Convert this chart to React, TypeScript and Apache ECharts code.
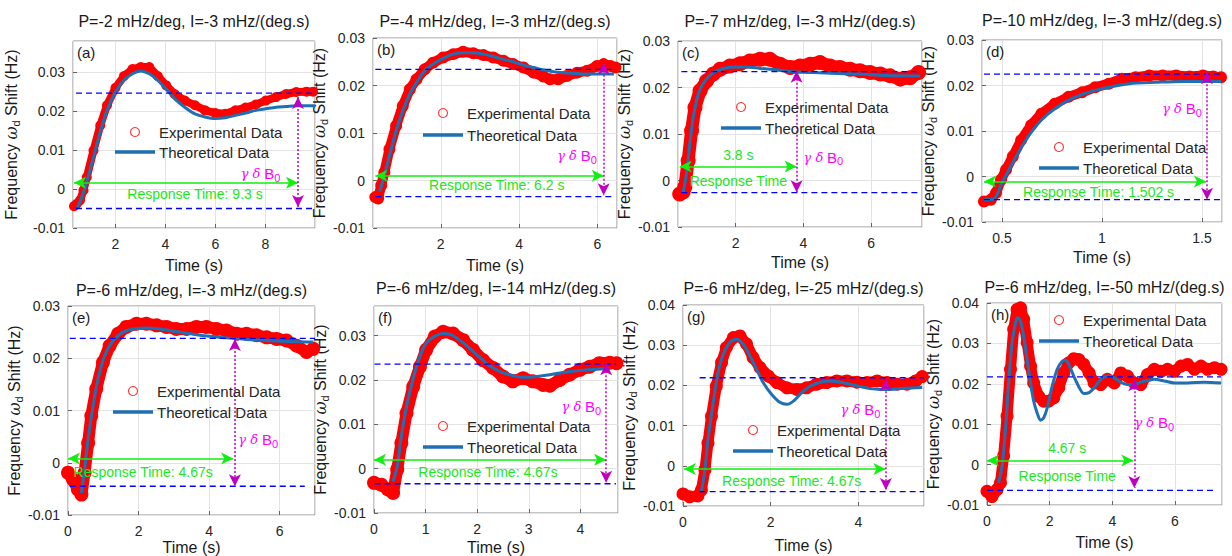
import React, { useEffect, useRef } from "react";
import * as echarts from "echarts";

type Pt = [number, number];

const FONT = "Liberation Sans, Arial, Helvetica, sans-serif";

const titles = [
  "P=-2 mHz/deg, I=-3 mHz/(deg.s)",
  "P=-4 mHz/deg, I=-3 mHz/(deg.s)",
  "P=-7 mHz/deg, I=-3 mHz/(deg.s)",
  "P=-10 mHz/deg, I=-3 mHz/(deg.s)",
  "P=-6 mHz/deg, I=-3 mHz/(deg.s)",
  "P=-6 mHz/deg, I=-14 mHz/(deg.s)",
  "P=-6 mHz/deg, I=-25 mHz/(deg.s)",
  "P=-6 mHz/deg, I=-50 mHz/(deg.s)",
];
const letters = ["(a)", "(b)", "(c)", "(d)", "(e)", "(f)", "(g)", "(h)"];

// axis ranges
const xRanges: Pt[] = [[0.3, 9.98], [0.27, 6.5], [0.3, 7.5], [0.4, 1.6], [0, 7], [0, 4.73], [0, 5.5], [0, 7.5]];
const xSteps = [2, 2, 2, 0.5, 2, 1, 2, 2];
const yRanges: Pt[] = [[-0.01, 0.038], [-0.01, 0.03], [-0.01, 0.03], [-0.01, 0.03], [-0.01, 0.03], [-0.01, 0.0367], [-0.01, 0.04], [-0.01, 0.04]];
const yStep = 0.01;

// experimental / theoretical data
const expA: Pt[] = [[0.34, -0.0044], [0.45, -0.0038], [0.58, -0.0029], [0.72, -0.0003], [0.85, 0.003], [1.12, 0.0099], [1.39, 0.0163], [1.66, 0.0215], [2.0, 0.026], [2.34, 0.029], [2.68, 0.0308], [3.01, 0.0313], [3.35, 0.0313], [3.69, 0.029], [4.03, 0.0266], [4.36, 0.0244], [4.77, 0.0227], [5.18, 0.0215], [5.58, 0.0202], [5.99, 0.0195], [6.39, 0.0193], [6.8, 0.0202], [7.2, 0.0209], [7.61, 0.0217], [8.01, 0.0227], [8.42, 0.0236], [8.82, 0.0244], [9.23, 0.0249], [9.64, 0.025], [9.9, 0.025]];
const theoA: Pt[] = [[0.47, -0.0046], [0.6, -0.003], [0.85, 0.0018], [1.12, 0.0082], [1.39, 0.0146], [1.66, 0.0202], [2.0, 0.0249], [2.34, 0.0279], [2.68, 0.0296], [3.01, 0.0303], [3.35, 0.0296], [3.69, 0.0279], [4.03, 0.0257], [4.36, 0.0232], [4.77, 0.021], [5.18, 0.0193], [5.58, 0.0185], [5.99, 0.0181], [6.39, 0.0183], [6.8, 0.0189], [7.2, 0.0195], [7.61, 0.0202], [8.01, 0.0206], [8.42, 0.021], [8.82, 0.0212], [9.23, 0.0214], [9.64, 0.0214], [9.98, 0.0214]];

const expB: Pt[] = [[0.33, -0.0035], [0.4, -0.0038], [0.48, -0.001], [0.56, 0.0017], [0.69, 0.0066], [0.86, 0.0115], [1.03, 0.0157], [1.21, 0.0192], [1.38, 0.0213], [1.59, 0.0234], [1.8, 0.0248], [2.06, 0.0259], [2.32, 0.0266], [2.57, 0.0271], [2.83, 0.0268], [3.09, 0.0264], [3.34, 0.0259], [3.6, 0.0252], [3.85, 0.0245], [4.11, 0.0238], [4.37, 0.0227], [4.62, 0.0219], [4.79, 0.0213], [5.0, 0.0213], [5.22, 0.022], [5.48, 0.0227], [5.74, 0.0231], [5.99, 0.0241], [6.16, 0.0245], [6.33, 0.0241], [6.46, 0.0238]];
const theoB: Pt[] = [[0.44, -0.0023], [0.56, 0.001], [0.69, 0.0052], [0.86, 0.0105], [1.03, 0.0147], [1.21, 0.0182], [1.38, 0.0206], [1.59, 0.0231], [1.8, 0.0245], [2.06, 0.0257], [2.32, 0.0266], [2.57, 0.0269], [2.83, 0.0269], [3.09, 0.0266], [3.34, 0.0261], [3.6, 0.0255], [3.85, 0.025], [4.11, 0.0243], [4.37, 0.0238], [4.62, 0.0233], [4.88, 0.0229], [5.14, 0.0227], [5.39, 0.0226], [5.65, 0.0224], [5.99, 0.0224], [6.42, 0.0224]];

const expC: Pt[] = [[0.35, -0.0029], [0.45, -0.0025], [0.5, -0.0014], [0.6, 0.0043], [0.7, 0.0107], [0.8, 0.0157], [0.95, 0.0193], [1.14, 0.0214], [1.34, 0.0229], [1.54, 0.0239], [1.83, 0.0246], [2.13, 0.0251], [2.42, 0.0257], [2.72, 0.0261], [3.01, 0.0261], [3.31, 0.025], [3.61, 0.0243], [3.9, 0.0246], [4.2, 0.025], [4.49, 0.0254], [4.79, 0.0246], [5.08, 0.0243], [5.38, 0.0239], [5.67, 0.0236], [5.97, 0.0232], [6.27, 0.0229], [6.56, 0.0225], [6.86, 0.0218], [7.15, 0.0221], [7.4, 0.0232]];
const theoC: Pt[] = [[0.45, -0.0027], [0.55, 0.0014], [0.65, 0.0079], [0.75, 0.0136], [0.9, 0.0186], [1.09, 0.0214], [1.34, 0.0232], [1.64, 0.0241], [1.98, 0.0244], [2.33, 0.0244], [2.72, 0.0241], [3.21, 0.0238], [3.7, 0.0234], [4.3, 0.0232], [4.99, 0.023], [5.67, 0.0229], [6.46, 0.0226], [7.45, 0.0225]];

const expD: Pt[] = [[0.41, -0.0055], [0.444, -0.0051], [0.47, -0.0036], [0.495, -0.0007], [0.52, 0.0015], [0.554, 0.0044], [0.596, 0.008], [0.646, 0.0113], [0.697, 0.0138], [0.764, 0.016], [0.832, 0.0175], [0.9, 0.0185], [0.966, 0.0196], [1.034, 0.0204], [1.1, 0.0215], [1.168, 0.0218], [1.236, 0.0222], [1.303, 0.0222], [1.37, 0.0222], [1.438, 0.022], [1.505, 0.0222], [1.556, 0.022], [1.595, 0.0218]];
const theoD: Pt[] = [[0.41, -0.0051], [0.46, -0.0049], [0.495, -0.0018], [0.53, 0.0011], [0.58, 0.0051], [0.63, 0.0087], [0.697, 0.0124], [0.764, 0.0149], [0.848, 0.0171], [0.933, 0.0185], [1.034, 0.0196], [1.135, 0.0204], [1.27, 0.0207], [1.404, 0.0209], [1.595, 0.0209]];

const expE: Pt[] = [[0.0, -0.0019], [0.14, -0.0032], [0.28, -0.0051], [0.38, -0.0061], [0.47, -0.0019], [0.57, 0.0038], [0.66, 0.009], [0.8, 0.0141], [0.99, 0.0192], [1.18, 0.0224], [1.42, 0.0247], [1.65, 0.026], [1.94, 0.0266], [2.22, 0.0266], [2.51, 0.0263], [2.79, 0.026], [3.07, 0.0256], [3.36, 0.0256], [3.64, 0.026], [3.92, 0.026], [4.21, 0.0256], [4.49, 0.0253], [4.78, 0.0247], [5.06, 0.0247], [5.34, 0.0244], [5.63, 0.024], [5.91, 0.0237], [6.19, 0.0234], [6.48, 0.0224], [6.76, 0.0212], [6.95, 0.0218]];
const theoE: Pt[] = [[0.38, -0.0058], [0.47, -0.0013], [0.57, 0.0045], [0.71, 0.0109], [0.85, 0.016], [1.04, 0.0205], [1.28, 0.0234], [1.56, 0.025], [1.84, 0.0256], [2.22, 0.0258], [2.6, 0.0256], [3.07, 0.0251], [3.55, 0.0246], [4.02, 0.0242], [4.49, 0.0239], [5.06, 0.0236], [5.63, 0.0234], [6.29, 0.0232], [6.95, 0.0231]];

const expF: Pt[] = [[0.0, -0.0032], [0.14, -0.0036], [0.27, -0.0047], [0.37, -0.0055], [0.45, -0.0002], [0.53, 0.0058], [0.63, 0.0125], [0.76, 0.0185], [0.89, 0.023], [1.01, 0.0268], [1.18, 0.0298], [1.34, 0.0309], [1.53, 0.0305], [1.73, 0.029], [1.92, 0.0268], [2.11, 0.0245], [2.31, 0.0227], [2.5, 0.0208], [2.69, 0.0197], [2.89, 0.0204], [3.08, 0.0197], [3.28, 0.0189], [3.41, 0.0187], [3.6, 0.02], [3.79, 0.0212], [3.99, 0.0223], [4.18, 0.023], [4.37, 0.0238], [4.57, 0.0239], [4.7, 0.0238]];
const theoF: Pt[] = [[0.37, -0.0029], [0.45, 0.0005], [0.53, 0.0073], [0.63, 0.014], [0.76, 0.0204], [0.89, 0.0253], [1.01, 0.0283], [1.18, 0.0299], [1.34, 0.0305], [1.5, 0.0302], [1.66, 0.029], [1.85, 0.0272], [2.05, 0.0251], [2.24, 0.0232], [2.44, 0.0219], [2.63, 0.0212], [2.89, 0.0206], [3.15, 0.0208], [3.41, 0.0212], [3.66, 0.0217], [3.92, 0.0221], [4.25, 0.0224], [4.57, 0.0226]];

const expG: Pt[] = [[0.0, -0.007], [0.15, -0.0077], [0.34, -0.0075], [0.42, -0.006], [0.5, -0.001], [0.57, 0.0057], [0.65, 0.0123], [0.76, 0.0198], [0.88, 0.0257], [0.99, 0.0294], [1.15, 0.0319], [1.3, 0.0323], [1.45, 0.0303], [1.6, 0.0269], [1.76, 0.0244], [1.95, 0.0223], [2.14, 0.0207], [2.37, 0.0194], [2.6, 0.019], [2.82, 0.0194], [3.05, 0.0203], [3.28, 0.0207], [3.51, 0.0211], [3.74, 0.0211], [3.97, 0.0208], [4.2, 0.0207], [4.43, 0.0211], [4.66, 0.0207], [4.89, 0.0203], [5.11, 0.0203], [5.31, 0.0211], [5.46, 0.0222]];
const theoG: Pt[] = [[0.42, -0.0064], [0.5, -0.001], [0.57, 0.0065], [0.69, 0.0157], [0.8, 0.0232], [0.92, 0.0278], [1.07, 0.0307], [1.22, 0.0315], [1.37, 0.0303], [1.53, 0.0273], [1.68, 0.024], [1.83, 0.0207], [2.02, 0.0178], [2.21, 0.0158], [2.37, 0.0153], [2.52, 0.0161], [2.71, 0.0182], [2.9, 0.0198], [3.13, 0.0208], [3.36, 0.0211], [3.59, 0.0208], [3.82, 0.0203], [4.05, 0.0197], [4.27, 0.0192], [4.5, 0.019], [4.73, 0.019], [5.04, 0.0193], [5.46, 0.0195]];

const expH: Pt[] = [[0.0, -0.0066], [0.16, -0.0079], [0.32, -0.0062], [0.43, -0.0045], [0.53, 0.0021], [0.64, 0.012], [0.75, 0.0236], [0.85, 0.0335], [0.96, 0.0384], [1.07, 0.0388], [1.17, 0.036], [1.28, 0.0302], [1.39, 0.0244], [1.49, 0.0202], [1.65, 0.0169], [1.81, 0.0157], [1.97, 0.0157], [2.13, 0.0165], [2.29, 0.019], [2.45, 0.0227], [2.61, 0.0252], [2.77, 0.0262], [2.93, 0.026], [3.09, 0.0248], [3.26, 0.0227], [3.42, 0.0202], [3.63, 0.0198], [3.84, 0.0211], [4.06, 0.0202], [4.27, 0.0227], [4.48, 0.0219], [4.7, 0.0202], [4.91, 0.0198], [5.12, 0.0223], [5.34, 0.0236], [5.55, 0.0231], [5.76, 0.0236], [5.98, 0.0231], [6.19, 0.0244], [6.4, 0.0248], [6.62, 0.0236], [6.83, 0.0244], [7.04, 0.0236], [7.26, 0.024], [7.47, 0.0236]];
const theoH: Pt[] = [[0.37, -0.0045], [0.48, -0.0004], [0.59, 0.0087], [0.69, 0.0202], [0.8, 0.0302], [0.91, 0.0351], [0.98, 0.0364], [1.07, 0.0355], [1.17, 0.0318], [1.28, 0.026], [1.39, 0.0202], [1.49, 0.0157], [1.6, 0.0128], [1.71, 0.011], [1.81, 0.0116], [1.92, 0.014], [2.08, 0.0194], [2.24, 0.0236], [2.4, 0.0256], [2.51, 0.0259], [2.61, 0.0248], [2.77, 0.0219], [2.93, 0.0193], [3.09, 0.0176], [3.26, 0.0178], [3.42, 0.019], [3.63, 0.0211], [3.84, 0.0219], [4.06, 0.0215], [4.27, 0.0204], [4.48, 0.0198], [4.7, 0.0198], [4.91, 0.0204], [5.12, 0.0208], [5.34, 0.0211], [5.66, 0.0207], [5.98, 0.0202], [6.4, 0.0202], [6.94, 0.0204], [7.47, 0.0202]];

const expData = [expA, expB, expC, expD, expE, expF, expG, expH];
const theoData = [theoA, theoB, theoC, theoD, theoE, theoF, theoG, theoH];

// steady-state (upper) and initial (lower) levels
const upperLevels = [0.0246, 0.0234, 0.0234, 0.0225, 0.0238, 0.0236, 0.0219, 0.0217];
const lowerLevels = [-0.005, -0.0034, -0.0026, -0.0051, -0.0045, -0.0034, -0.0064, -0.0064];
const upperSpan: Pt[] = [[0.42, 9.95], [0.33, 6.44], [0.4, 7.45], [0.41, 1.6], [0.05, 7.0], [0.01, 4.69], [0.38, 5.5], [0, 7.47]];
const lowerSpan: Pt[] = [[0.42, 9.95], [0.33, 6.44], [0.4, 7.45], [0.41, 1.6], [0.05, 6.71], [0.01, 4.69], [0.38, 5.5], [0, 7.26]];

// response-time arrows: [x start, x end, y]
const responseArrows: [number, number, number][] = [[0.34, 9.3, 0.0016], [0.33, 6.16, 0.001], [0.35, 3.8, 0.003], [0.41, 1.52, -0.0011], [0, 4.68, 0.0008], [0, 4.5, 0.002], [0.02, 4.62, -0.0008], [0, 4.67, 0.001]];
// response text: [text, x, y]
const responseTexts: [string, number, number][][] = [
  [["Response Time: 9.3 s", 5.18, -0.0012]],
  [["Response Time: 6.2 s", 3.43, -0.001]],
  [["3.8 s", 2.08, 0.0054], ["Response Time", 2.08, 0.0]],
  [["Response Time: 1.502 s", 0.983, -0.0033]],
  [["Response Time: 4.67s", 2.13, -0.0018]],
  [["Response Time: 4.67s", 2.21, -0.0008]],
  [["Response Time: 4.67s", 2.48, -0.0037]],
  [["4.67 s", 2.56, 0.0041], ["Response Time", 2.56, -0.0029]],
];
// gamma delta B0 arrows: [x, y top, y bottom]
const fieldArrows: [number, number, number][] = [[9.3, 0.0236, -0.0046], [6.16, 0.0248, -0.0031], [3.8, 0.0236, -0.0025], [1.525, 0.0229, -0.0051], [4.73, 0.0237, -0.0045], [4.5, 0.0238, -0.0032], [4.63, 0.0215, -0.006], [4.7, 0.0211, -0.0058]];
const fieldLabels: Pt[] = [[7.8, 0.0039], [5.48, 0.0052], [4.59, 0.005], [1.4, 0.0149], [5.39, 0.0044], [4.02, 0.014], [4.05, 0.014], [5.34, 0.0103]];

// layout (pixels)
const grids = [
  { left: 73, top: 41, width: 242, height: 187 },
  { left: 373, top: 38, width: 244, height: 190 },
  { left: 678, top: 41, width: 244, height: 186 },
  { left: 982, top: 40, width: 240, height: 182 },
  { left: 68, top: 306, width: 247, height: 209 },
  { left: 374, top: 306, width: 244, height: 207 },
  { left: 683, top: 305, width: 241, height: 201 },
  { left: 987, top: 303, width: 235, height: 202 },
];
const titleY = [21, 21, 21, 20.5, 290, 288.5, 288.5, 287];
const nameGapX = [29, 29, 27, 27, 24, 26, 31, 29];
const nameGapY = [52, 42, 40, 39, 39, 38.5, 44.5, 41.5];
const bandWidth = [8, 10, 13, 10, 12, 12, 11, 11];
const legendPos: [number, number, number][] = [[159, 132, 152], [467, 113, 135], [765, 107, 128], [1083, 147, 168], [157, 391, 412], [467, 426, 447], [777, 430, 451], [1083, 320, 341]];

const RED = "#ff0000";
const BLUE_LINE = "#1f6fb4";
const GREEN = "#11ee11";
const MAGENTA = "#ff00ff";
const TXT = "#262626";

const isMult = (v: number, s: number) => Math.abs(Math.round(v / s) * s - v) < 1e-9;

export default function App() {
  const ref = useRef<HTMLDivElement>(null);

  useEffect(() => {
    document.body.style.margin = "0";
    if (!ref.current) return;
    const chart = echarts.init(ref.current, null, { renderer: "svg" });

    const grid: any[] = [];
    const xAxis: any[] = [];
    const yAxis: any[] = [];
    const series: any[] = [];

    for (let i = 0; i < 8; i++) {
      grid.push({ ...grids[i], show: true, borderColor: "#8c8c8c", borderWidth: 1, backgroundColor: "#ffffff" });
      xAxis.push({
        type: "value",
        gridIndex: i,
        min: xRanges[i][0],
        max: xRanges[i][1],
        minInterval: xSteps[i],
        maxInterval: xSteps[i],
        splitNumber: 5,
        name: "Time (s)",
        nameLocation: "middle",
        nameGap: nameGapX[i],
        nameTextStyle: { fontSize: 16, color: "#1a1a1a", fontFamily: FONT },
        axisLine: { show: false, onZero: false },
        axisTick: { show: true, inside: true, length: 4, lineStyle: { color: "#666" } },
        axisLabel: {
          fontSize: 14,
          color: TXT,
          fontFamily: FONT,
          margin: 9,
          showMinLabel: isMult(xRanges[i][0], xSteps[i]),
          showMaxLabel: false,
        },
        splitLine: { show: true, lineStyle: { color: "#e3e3e3", width: 1 } },
      });
      yAxis.push({
        type: "value",
        gridIndex: i,
        min: yRanges[i][0],
        max: yRanges[i][1],
        minInterval: yStep,
        maxInterval: yStep,
        name: "Frequency {w|ω}{s|d} Shift (Hz)",
        nameLocation: "middle",
        nameRotate: 90,
        nameGap: nameGapY[i],
        nameTextStyle: {
          fontSize: 16,
          color: "#1a1a1a",
          fontFamily: FONT,
          rich: {
            w: { fontSize: 16, color: "#1a1a1a", fontFamily: "DejaVu Serif", fontStyle: "italic" },
            s: { fontSize: 11, color: "#1a1a1a", fontFamily: FONT, padding: [8, 0, 0, 0] },
          },
        },
        axisLine: { show: false, onZero: false },
        axisTick: { show: true, inside: true, length: 4, lineStyle: { color: "#666" } },
        axisLabel: {
          fontSize: 14,
          color: TXT,
          fontFamily: FONT,
          margin: 8,
          showMinLabel: true,
          showMaxLabel: isMult(yRanges[i][1], yStep),
        },
        splitLine: { show: true, lineStyle: { color: "#e3e3e3", width: 1 } },
      });

      const bw = bandWidth[i];
      series.push({
        name: "Experimental Data",
        type: "line",
        xAxisIndex: i,
        yAxisIndex: i,
        data: expData[i],
        symbol: "circle",
        symbolSize: bw + 2,
        showSymbol: true,
        lineStyle: { color: RED, width: bw, cap: "round", join: "round" },
        itemStyle: { color: RED },
        silent: true,
        z: 2,
      });
      series.push({
        name: "Theoretical Data",
        type: "line",
        xAxisIndex: i,
        yAxisIndex: i,
        data: theoData[i],
        showSymbol: false,
        smooth: 0.3,
        lineStyle: { color: BLUE_LINE, width: 3 },
        silent: true,
        z: 3,
      });
      const ra = responseArrows[i];
      series.push({
        name: "upper",
        type: "line",
        xAxisIndex: i,
        yAxisIndex: i,
        data: [[upperSpan[i][0], upperLevels[i]], [upperSpan[i][1], upperLevels[i]]],
        showSymbol: false,
        lineStyle: { color: "#0000ff", width: 1.3, type: [6, 4] },
        silent: true,
        z: 4,
        markLine: {
          silent: true,
          symbol: ["arrow", "arrow"],
          symbolSize: [9, 12],
          label: { show: false },
          emphasis: { disabled: true },
          lineStyle: { color: GREEN, width: 1.7, type: "solid" },
          data: [[{ coord: [ra[0], ra[2]] }, { coord: [ra[1], ra[2]] }]],
        },
      });
      const fa = fieldArrows[i];
      series.push({
        name: "lower",
        type: "line",
        xAxisIndex: i,
        yAxisIndex: i,
        data: [[lowerSpan[i][0], lowerLevels[i]], [lowerSpan[i][1], lowerLevels[i]]],
        showSymbol: false,
        lineStyle: { color: "#0000ff", width: 1.3, type: [6, 4] },
        silent: true,
        z: 4,
        markLine: {
          silent: true,
          symbol: ["arrow", "arrow"],
          symbolSize: [9, 12],
          label: { show: false },
          emphasis: { disabled: true },
          lineStyle: { color: "#c000c0", width: 1.5, type: [2, 2] },
          data: [[{ coord: [fa[0], fa[1]] }, { coord: [fa[0], fa[2]] }]],
        },
      });
    }

    chart.setOption({
      animation: false,
      backgroundColor: "#ffffff",
      grid,
      xAxis,
      yAxis,
      series,
    });

    const graphic: any[] = [];
    for (let i = 0; i < 8; i++) {
      const g = grids[i];
      const toPx = (x: number, y: number) => chart.convertToPixel({ gridIndex: i } as any, [x, y]) as number[];
      graphic.push({
        type: "text",
        x: g.left + g.width / 2,
        y: titleY[i],
        z: 100,
        style: { text: titles[i], fontSize: 16, fontFamily: FONT, fill: "#1a1a1a", textAlign: "center", textVerticalAlign: "middle" },
      });
      graphic.push({
        type: "text",
        x: g.left + 4,
        y: g.top + 11,
        z: 100,
        style: { text: letters[i], fontSize: 15, fontFamily: FONT, fill: "#1a1a1a", textAlign: "left", textVerticalAlign: "middle" },
      });
      const [tx, y1, y2] = legendPos[i];
      graphic.push({
        type: "circle",
        z: 100,
        shape: { cx: tx - 24, cy: y1, r: 4.5 },
        style: { fill: "none", stroke: "#ff3030", lineWidth: 1.1 },
      });
      graphic.push({
        type: "text",
        x: tx,
        y: y1,
        z: 100,
        style: { text: "Experimental Data", fontSize: 15, fontFamily: FONT, fill: TXT, textAlign: "left", textVerticalAlign: "middle" },
      });
      graphic.push({
        type: "line",
        z: 100,
        shape: { x1: tx - 44, y1: y2, x2: tx - 4, y2: y2 },
        style: { stroke: BLUE_LINE, lineWidth: 3.5 },
      });
      graphic.push({
        type: "text",
        x: tx,
        y: y2,
        z: 100,
        style: { text: "Theoretical Data", fontSize: 15, fontFamily: FONT, fill: TXT, textAlign: "left", textVerticalAlign: "middle" },
      });
      for (const [t, x, y] of responseTexts[i]) {
        const p = toPx(x, y);
        graphic.push({
          type: "text",
          x: p[0],
          y: p[1],
          z: 100,
          style: { text: t, fontSize: 14, fontFamily: FONT, fill: "#22e622", textAlign: "center", textVerticalAlign: "middle" },
        });
      }
      const gp = toPx(fieldLabels[i][0], fieldLabels[i][1]);
      graphic.push({
        type: "text",
        x: gp[0],
        y: gp[1],
        z: 100,
        style: {
          text: "{g|γ δ} {b|B}{s|0}",
          fontSize: 14,
          fontFamily: FONT,
          fill: MAGENTA,
          textAlign: "center",
          textVerticalAlign: "middle",
          rich: {
            g: { fontSize: 13, fontFamily: "DejaVu Serif", fontStyle: "italic", fill: MAGENTA },
            b: { fontSize: 15, fontFamily: FONT, fill: MAGENTA },
            s: { fontSize: 11, fontFamily: FONT, fill: MAGENTA, padding: [8, 0, 0, 0] },
          },
        },
      });
    }
    chart.setOption({ graphic });

    return () => {
      chart.dispose();
    };
  }, []);

  return <div ref={ref} style={{ width: 1232, height: 556 }} />;
}
